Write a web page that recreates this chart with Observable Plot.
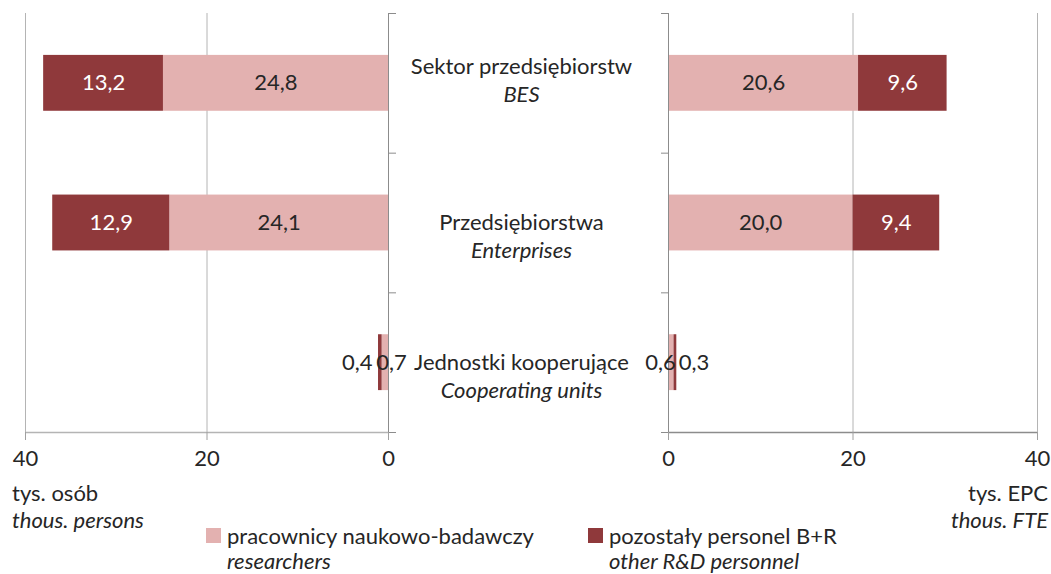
<!DOCTYPE html>
<html>
<head>
<meta charset="utf-8">
<script src="https://cdn.jsdelivr.net/npm/d3@7"></script>
<script src="https://cdn.jsdelivr.net/npm/@observablehq/plot@0.6"></script>
<style>
  body { margin: 0; background: #fff; }
  #wrap { position: relative; width: 1051px; height: 574px; font-family: Lato, "Open Sans", sans-serif; color: #262626; overflow: hidden; }
  .lbl { font-size: 22px; line-height: 27px; white-space: nowrap; }
  .leg { font-size: 22px; line-height: 25px; white-space: nowrap; }
  .it { font-style: italic; }
  .sw { position: absolute; width: 15px; height: 15px; }
</style>
</head>
<body>
<div id="wrap"></div>
<script>
// ---- data ----
const categoriesPL = ["Sektor przedsiębiorstw", "Przedsiębiorstwa", "Jednostki kooperujące"];
const categoriesEN = ["BES", "Enterprises", "Cooperating units"];
const seriesNames = ["researchers", "other"];
const seriesPL = ["pracownicy naukowo-badawczy", "pozostały personel B+R"];
const seriesEN = ["researchers", "other R&D personnel"];
// head count (thous. persons)
const personsResearchers = [24.8, 24.1, 0.7];
const personsOther = [13.2, 12.9, 0.4];
// full-time equivalent (thous. FTE)
const fteResearchers = [20.6, 20.0, 0.6];
const fteOther = [9.6, 9.4, 0.3];
const xTicks = [0, 20, 40];
const unitLeftPL = "tys. osób", unitLeftEN = "thous. persons";
const unitRightPL = "tys. EPC", unitRightEN = "thous. FTE";

const colors = {researchers: "#e3b1b0", other: "#8f393b"};
const textDark = "#262626";
const fmt = v => v.toFixed(1).replace(".", ",");
const FONT = "Lato, 'Open Sans', sans-serif";

function rows(res, oth) {
  const out = [];
  categoriesPL.forEach((c, i) => {
    let acc = 0;
    [[seriesNames[0], res[i]], [seriesNames[1], oth[i]]].forEach(([s, v]) => {
      out.push({i, series: s, value: v, x1: acc, x2: acc + v, mid: acc + v / 2});
      acc += v;
    });
  });
  return out;
}

const n = categoriesPL.length;
const half = 0.2; // half bar thickness in band units
const bounds = d3.range(n + 1).map(k => k - 0.5);

function panel(data, side) {
  const left = side === "left";
  const big = data.filter(d => d.value >= 1);
  const small = data.filter(d => d.value < 1);
  return Plot.plot({
    width: left ? 400 : 411,
    height: 480,
    marginLeft: left ? 25 : 28,
    marginRight: left ? 12 : 14,
    marginTop: 13,
    marginBottom: 48,
    style: {fontFamily: FONT, fontSize: "22px", color: textDark, background: "transparent", overflow: "visible"},
    x: {domain: [0, 40], reverse: left, label: null},
    y: {domain: [-0.5, n - 0.5], reverse: true, axis: null, label: null},
    color: {domain: seriesNames, range: [colors.researchers, colors.other]},
    marks: [
      Plot.ruleX(xTicks.filter(t => t !== 0), {stroke: "#b4b4b4", strokeWidth: 1}),
      Plot.rectX(data, {x1: "x1", x2: "x2", y1: d => d.i - half, y2: d => d.i + half, fill: "series"}),
      Plot.ruleX([0], {stroke: "#8c8c8c", strokeWidth: 1}),
      Plot.axisY({ticks: bounds, anchor: left ? "right" : "left", tickSize: 7, tickFormat: () => "", stroke: "#8c8c8c", label: null}),
      Plot.ruleY([n - 0.5], {stroke: left ? "#b4b4b4" : "#8c8c8c", strokeWidth: 1.5}),
      Plot.axisX({ticks: xTicks, tickSize: 8, tickPadding: 10, tickFormat: d => d, stroke: "#a0a0a0", fill: textDark, fontSize: 22, label: null}),
      Plot.text(big, {x: "mid", y: "i", text: d => fmt(d.value), fill: d => d.series === "other" ? "#ffffff" : textDark, fontSize: 22}),
      Plot.text(small.filter(d => d.series === "other"), {x: "x2", y: "i", text: d => fmt(d.value), fill: textDark, fontSize: 22, textAnchor: left ? "end" : "start", dx: left ? -6 : 2}),
      Plot.text(small.filter(d => d.series === "researchers"), {x: "x1", y: "i", text: d => fmt(d.value), fill: textDark, fontSize: 22, dx: left ? 3 : -8})
    ]
  });
}

const cats = categoriesPL.map((pl, i) => ({i, pl, en: categoriesEN[i]}));
const middle = Plot.plot({
  width: 270, height: 480, marginLeft: 0, marginRight: 0, marginTop: 13, marginBottom: 48,
  style: {fontFamily: FONT, fontSize: "22px", color: textDark, background: "transparent", overflow: "visible"},
  x: {axis: null}, y: {domain: [-0.5, n - 0.5], reverse: true, axis: null},
  marks: [
    Plot.text(cats.filter(d => d.i === 0), {y: "i", frameAnchor: "middle", text: "pl", fill: textDark, fontSize: 22, dy: -16}),
    Plot.text(cats.filter(d => d.i === 0), {y: "i", frameAnchor: "middle", text: "en", fill: textDark, fontSize: 22, fontStyle: "italic", dy: 12}),
    Plot.text(cats.filter(d => d.i > 0), {y: "i", frameAnchor: "middle", text: "pl", fill: textDark, fontSize: 22, dy: 0}),
    Plot.text(cats.filter(d => d.i > 0), {y: "i", frameAnchor: "middle", text: "en", fill: textDark, fontSize: 22, fontStyle: "italic", dy: 28})
  ]
});

const wrap = document.getElementById("wrap");
function place(el, x, y) { el.style.position = "absolute"; el.style.left = x + "px"; el.style.top = y + "px"; wrap.appendChild(el); }
place(panel(rows(personsResearchers, personsOther), "left"), 0, 0);
place(middle, 386, 0);
place(panel(rows(fteResearchers, fteOther), "right"), 640, 0);

function html(s) { const d = document.createElement("div"); d.innerHTML = s; return d.firstElementChild; }
place(html(`<div class="lbl">${unitLeftPL}<br><span class="it">${unitLeftEN}</span></div>`), 12, 479);
const r = html(`<div class="lbl" style="text-align:right">${unitRightPL}<br><span class="it">${unitRightEN}</span></div>`);
r.style.position = "absolute"; r.style.right = "3px"; r.style.top = "479px"; wrap.appendChild(r);

// legend
[[206, colors.researchers, 0], [588, colors.other, 1]].forEach(([x, c, k]) => {
  const sw = document.createElement("div"); sw.className = "sw"; sw.style.background = c;
  place(sw, x, 528);
  place(html(`<div class="leg">${seriesPL[k]}<br><span class="it">${seriesEN[k]}</span></div>`), x + 21, 523);
});
</script>
</body>
</html>
